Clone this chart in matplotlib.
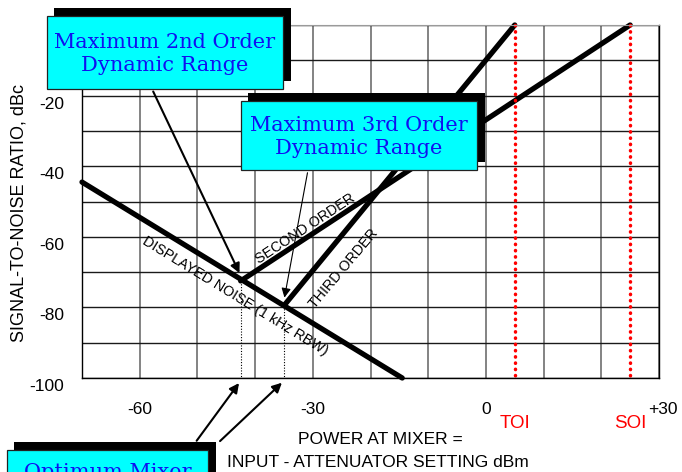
import matplotlib
matplotlib.use("Agg")
import matplotlib.pyplot as plt
from matplotlib.patches import Rectangle
import matplotlib.transforms as mtransforms

# values
power_noise = [-70, -14.5]
snr_noise = [-44.5, -100]
power_2nd = [-42.5, 25]
snr_2nd = [-72.5, 0]
power_3rd = [-35, 5]
snr_3rd = [-79.5, 0]
toi = 5
soi = 25
opt_2nd = (-42.5, -72.5)
opt_3rd = (-35, -79.5)
x_ticks = [-60, -30, 0, 30]
x_tick_labels = ["-60", "-30", "0", "+30"]
y_ticks = [-100, -80, -60, -40, -20]

plt.rcParams["font.family"] = ["Liberation Sans", "DejaVu Sans"]
plt.rcParams["axes.unicode_minus"] = False

fig = plt.figure(figsize=(6.82, 4.72), dpi=100)
ax = fig.add_axes([82 / 682, 94 / 472, 577 / 682, 353 / 472])
ax.set_xlim(-70, 30)
ax.set_ylim(-100, 0)

# grid every 10 dB
ax.set_xticks(x_ticks)
ax.set_xticklabels(x_tick_labels)
ax.set_xticks(range(-70, 31, 10), minor=True)
ax.set_yticks(y_ticks)
ax.set_yticks(range(-100, 1, 10), minor=True)
ax.tick_params(which="both", length=0, labelsize=12.5)
ax.tick_params(axis="x", pad=17)
ax.tick_params(axis="y", pad=13)
for lab in ax.get_yticklabels():
    lab.set_transform(lab.get_transform() + mtransforms.ScaledTranslation(0, -7 / 100, fig.dpi_scale_trans))
for lab in ax.get_xticklabels()[-1:]:
    lab.set_transform(lab.get_transform() + mtransforms.ScaledTranslation(4 / 100, 0, fig.dpi_scale_trans))
ax.xaxis.grid(True, which="both", color="#7a7a7a", lw=1.3)
ax.yaxis.grid(True, which="both", color="#1a1a1a", lw=1.0)
ax.set_axisbelow(True)
for s in ["left", "bottom", "right"]:
    ax.spines[s].set_color("black")
    ax.spines[s].set_linewidth(1.0)
ax.spines["top"].set_color("#9a9a9a")

# main lines
ax.plot(power_noise, snr_noise, color="black", lw=3.8, solid_capstyle="round", clip_on=False)
ax.plot(power_2nd, snr_2nd, color="black", lw=3.8, solid_capstyle="round", clip_on=False)
ax.plot(power_3rd, snr_3rd, color="black", lw=3.8, solid_capstyle="round", clip_on=False)

# intercept markers
dots = (0, (0.1, 1.7))
ax.plot([toi, toi], [0, -100], color="red", lw=2.5, ls=dots, dash_capstyle="round", clip_on=False)
ax.plot([soi, soi], [0, -100], color="red", lw=2.5, ls=dots, dash_capstyle="round", clip_on=False)
ax.text(toi, -113, "TOI", color="red", fontsize=13.5, ha="center", va="center")
ax.text(soi, -113, "SOI", color="red", fontsize=13.5, ha="center", va="center")

# optimum level drop lines
ax.plot([opt_2nd[0], opt_2nd[0]], [opt_2nd[1], -100], color="black", lw=0.8, ls=(0, (1, 1.5)))
ax.plot([opt_3rd[0], opt_3rd[0]], [opt_3rd[1], -100], color="black", lw=0.8, ls=(0, (1, 1.5)))

# line labels
ax.text(-31.3, -57.6, "SECOND ORDER", fontsize=10.3, rotation=33.4, rotation_mode="anchor",
        ha="center", va="center")
ax.text(-24.6, -68.9, "THIRD ORDER", fontsize=10.3, rotation=50, rotation_mode="anchor",
        ha="center", va="center")
ax.text(-43.5, -76.8, "DISPLAYED NOISE (1 kHz RBW)", fontsize=10.3, rotation=-31.5,
        rotation_mode="anchor", ha="center", va="center")

ax.set_ylabel("SIGNAL-TO-NOISE RATIO, dBc", fontsize=13)
ax.yaxis.set_label_coords(-0.094, 0.467)
# x axis title, two lines
ax.text(0.5165, -0.1756, "POWER AT MIXER =", transform=ax.transAxes, fontsize=12.5,
        ha="center", va="center")
ax.text(0.513, -0.238, "INPUT - ATTENUATOR SETTING dBm", transform=ax.transAxes, fontsize=12.5,
        ha="center", va="center")

# overlay in pixel coordinates for the callout boxes
ov = fig.add_axes([0, 0, 1, 1], zorder=5)
ov.set_xlim(0, 682)
ov.set_ylim(472, 0)
ov.axis("off")


def callout(x0, y0, x1, y1, text, ty, va="center"):
    ov.add_patch(Rectangle((x0 + 7, y0 - 8), x1 - x0 + 1, y1 - y0, fc="black", ec="none", clip_on=False))
    ov.add_patch(Rectangle((x0, y0), x1 - x0, y1 - y0, fc="#00ffff", ec="#222222", lw=0.9, clip_on=False))
    ov.text((x0 + x1) / 2, ty, text, color="#1010f0", fontsize=15, family="DejaVu Serif",
            ha="center", va=va, linespacing=1.3, clip_on=False)


callout(47, 16, 283, 89, "Maximum 2nd Order\nDynamic Range", 54)
callout(241, 101, 477, 170, "Maximum 3rd Order\nDynamic Range", 137)
callout(7, 450, 208, 490, "Optimum Mixer\nLevels", 463, va="top")

arrow_thick = dict(arrowstyle="-|>", color="black", lw=1.5, mutation_scale=14)
arrow_thin = dict(arrowstyle="-|>", color="black", lw=0.8, mutation_scale=14)
ov.annotate("", xy=(opt_2nd[0], -71), xycoords=ax.transData, xytext=(152, 89), textcoords="data",
            arrowprops=arrow_thick, annotation_clip=False)
ov.annotate("", xy=(opt_3rd[0], -78), xycoords=ax.transData, xytext=(308, 170), textcoords="data",
            arrowprops=arrow_thin, annotation_clip=False)
ov.annotate("", xy=(opt_2nd[0], -100.8), xycoords=ax.transData, xytext=(195, 443), textcoords="data",
            arrowprops=arrow_thick, annotation_clip=False)
ov.annotate("", xy=(opt_3rd[0], -100.8), xycoords=ax.transData, xytext=(218, 443), textcoords="data",
            arrowprops=arrow_thick, annotation_clip=False)

fig.savefig("out.png", dpi=100)
